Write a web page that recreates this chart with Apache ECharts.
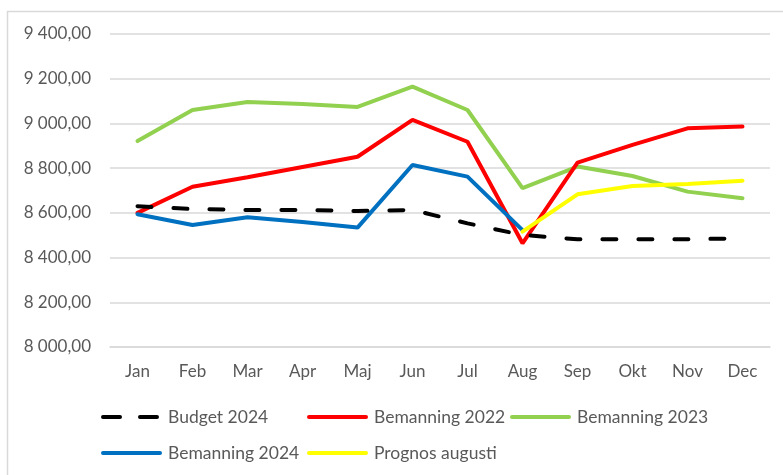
<!DOCTYPE html>
<html>
<head>
<meta charset="utf-8">
<script src="https://cdn.jsdelivr.net/npm/echarts@6/dist/echarts.min.js"></script>
<style>
  html, body { margin: 0; padding: 0; background: #ffffff; }
  #chart { width: 783px; height: 475px; }
</style>
</head>
<body>
<div id="chart"></div>
<script>
const months = ['Jan', 'Feb', 'Mar', 'Apr', 'Maj', 'Jun', 'Jul', 'Aug', 'Sep', 'Okt', 'Nov', 'Dec']

const budget2024 = [8630, 8617, 8613, 8613, 8608, 8613, 8553, 8501, 8482, 8482, 8482, 8486]
const bemanning2022 = [8600, 8717, 8759, 8805, 8851, 9016, 8918, 8464, 8825, 8904, 8978, 8986]
const bemanning2023 = [8921, 9060, 9096, 9087, 9074, 9165, 9060, 8711, 8807, 8765, 8695, 8665]
const bemanning2024 = [8594, 8546, 8580, 8559, 8534, 8814, 8762, 8523, null, null, null, null]
const prognosAugusti = [null, null, null, null, null, null, null, 8516, 8683, 8720, 8729, 8744]

const labelColor = '#595959'
const font = 'Lato'

// ett legend-block per post, så de hamnar i samma kolumner som i Excel
const legendSlots = [
  { name: 'Budget 2024', left: 101, top: 408 },
  { name: 'Bemanning 2022', left: 307, top: 408 },
  { name: 'Bemanning 2023', left: 510, top: 408 },
  { name: 'Bemanning 2024', left: 101, top: 444 },
  { name: 'Prognos augusti', left: 307, top: 444 },
]

const fmt = (v) => {
  const parts = v.toFixed(2).split('.')
  return parts[0].replace(/\B(?=(\d{3})+(?!\d))/g, ' ') + ',' + parts[1]
}

const lineSeries = (name, data, color, dashed) => ({
  name: name,
  type: 'line',
  data: data,
  symbol: 'none',
  smooth: false,
  connectNulls: false,
  lineStyle: {
    color: color,
    width: 4,
    type: dashed ? [14, 22] : 'solid',
    cap: 'round',
  },
  itemStyle: { color: color },
  z: dashed ? 3 : 2,
})

const chart = echarts.init(document.getElementById('chart'))
chart.setOption({
  animation: false,
  backgroundColor: '#ffffff',
  textStyle: { fontFamily: font },
  graphic: [
    {
      type: 'polyline',
      shape: { points: [[7.5, 475], [7.5, 11.5], [783, 11.5]] },
      style: { stroke: '#d9d9d9', lineWidth: 1.5, fill: null },
      silent: true,
    },
  ],
  grid: {
    left: 110,
    right: 13,
    top: 34,
    bottom: 128,
  },
  xAxis: {
    type: 'category',
    data: months,
    boundaryGap: true,
    axisLine: { show: true, lineStyle: { color: '#d9d9d9', width: 1.5 } },
    axisTick: { show: false },
    axisLabel: {
      color: labelColor,
      fontFamily: font,
      fontSize: 17,
      margin: 16,
    },
  },
  yAxis: {
    type: 'value',
    min: 8000,
    max: 9400,
    interval: 200,
    axisLine: { show: false },
    axisTick: { show: false },
    splitLine: { show: true, lineStyle: { color: '#d9d9d9', width: 1.5 } },
    axisLabel: {
      color: labelColor,
      fontFamily: font,
      fontSize: 17,
      margin: 19,
      formatter: fmt,
    },
  },
  legend: legendSlots.map((s) => ({
    data: [s.name],
    left: s.left,
    top: s.top,
    itemWidth: 57,
    itemHeight: 4,
    padding: 0,
    itemStyle: { opacity: 0 },
    lineStyle: {
      width: 4,
      cap: 'round',
      type: s.name === 'Budget 2024' ? [17, 20] : 'solid',
    },
    textStyle: { color: labelColor, fontFamily: font, fontSize: 17.5, padding: [0, 0, 0, 3] },
    selectedMode: false,
  })),
  series: [
    lineSeries('Bemanning 2023', bemanning2023, '#92D050', false),
    lineSeries('Bemanning 2022', bemanning2022, '#FF0000', false),
    lineSeries('Bemanning 2024', bemanning2024, '#0070C0', false),
    lineSeries('Prognos augusti', prognosAugusti, '#FFFF00', false),
    lineSeries('Budget 2024', budget2024, '#000000', true),
  ],
})
</script>
</body>
</html>
